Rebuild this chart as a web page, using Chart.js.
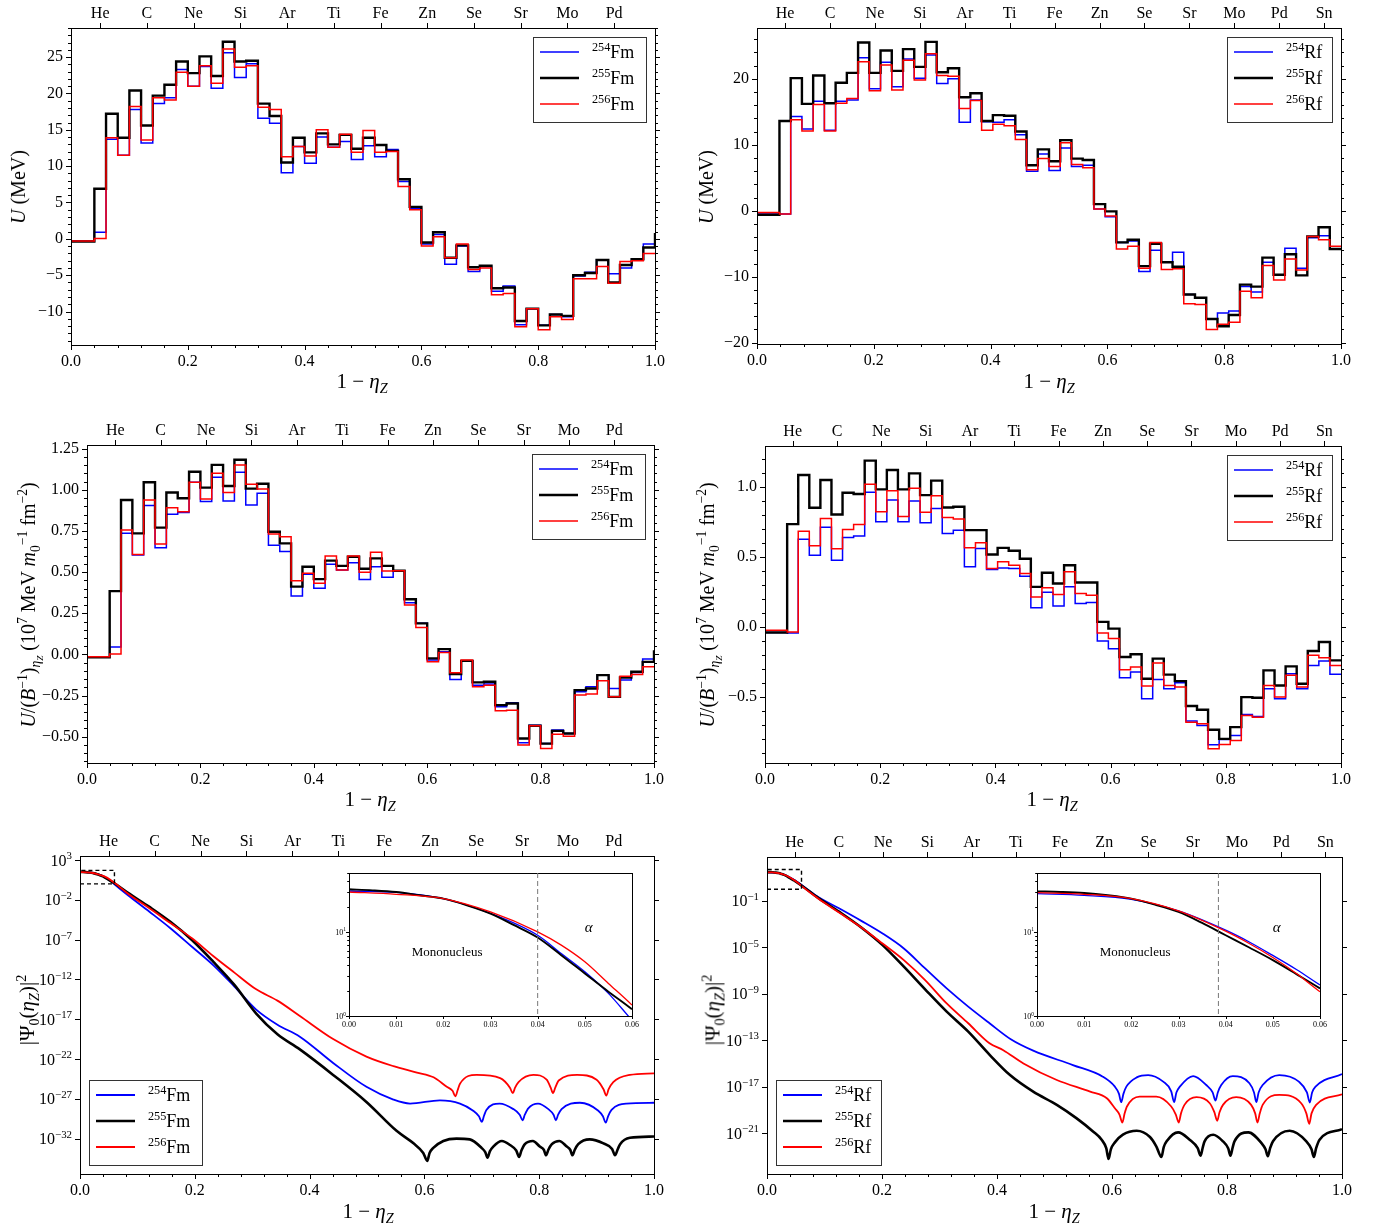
<!DOCTYPE html>
<html>
<head>
<meta charset="utf-8">
<title>Driving potential and ground-state wave function, Fm and Rf isotopes</title>
<script src="https://cdn.jsdelivr.net/npm/chart.js@4.4.1/dist/chart.umd.min.js"></script>
<style>
  body { margin: 0; width: 1379px; height: 1226px; position: relative; overflow: hidden; background: #fff; font-family: 'Liberation Serif', serif; color: #000; }
  canvas { position: absolute; }
  .ttl { position: absolute; z-index: 2; white-space: nowrap; transform: translate(-50%, -50%); font-size: 21px; line-height: 1; }
  .ttl.v { transform: translate(-50%, -50%) rotate(-90deg); font-size: 20px; }
  sub, sup { font-size: 0.68em; line-height: 0; }
</style>
</head>
<body>
<div class="ttl v" style="left:18px;top:187px"><i>U</i> (MeV)</div>
<div class="ttl v" style="left:706px;top:187px"><i>U</i> (MeV)</div>
<div class="ttl v" style="left:29px;top:605px"><i>U</i>/(<i>B</i><sup>−1</sup>)<sub><i>η<sub>Z</sub></i></sub> (10<sup>7</sup> MeV <i>m</i><sub>0</sub><sup>−1</sup> fm<sup>−2</sup>)</div>
<div class="ttl v" style="left:708px;top:605px"><i>U</i>/(<i>B</i><sup>−1</sup>)<sub><i>η<sub>Z</sub></i></sub> (10<sup>7</sup> MeV <i>m</i><sub>0</sub><sup>−1</sup> fm<sup>−2</sup>)</div>
<div class="ttl v" style="left:27px;top:1010px;font-size:21px">|Ψ<sub>0</sub>(<i>η<sub>Z</sub></i>)|<sup>2</sup></div>
<div class="ttl v" style="left:713px;top:1010px;font-size:21px">|Ψ<sub>0</sub>(<i>η<sub>Z</sub></i>)|<sup>2</sup></div>
<div class="ttl" style="left:362px;top:381px">1 − <i>η<sub>Z</sub></i></div>
<div class="ttl" style="left:1049px;top:381px">1 − <i>η<sub>Z</sub></i></div>
<div class="ttl" style="left:370px;top:799px">1 − <i>η<sub>Z</sub></i></div>
<div class="ttl" style="left:1052px;top:799px">1 − <i>η<sub>Z</sub></i></div>
<div class="ttl" style="left:368px;top:1211px">1 − <i>η<sub>Z</sub></i></div>
<div class="ttl" style="left:1054px;top:1211px">1 − <i>η<sub>Z</sub></i></div>
<script>
const FONT = "'Liberation Serif', serif";
Chart.defaults.font.family = FONT;
Chart.defaults.color = '#000';

// element labels on the top axis (light fragment charge Z2)
const elemNames = ['He', 'C', 'Ne', 'Si', 'Ar', 'Ti', 'Fe', 'Zn', 'Se', 'Sr', 'Mo', 'Pd', 'Sn'];
const elemZ = [2, 6, 10, 14, 18, 22, 26, 30, 34, 38, 42, 46, 50];
const xTicks = [0, 0.2, 0.4, 0.6, 0.8, 1.0];

// bin widths in 1 - eta_Z (one unit of charge)
const binFm = 2 / 100;
const binRf = 2 / 104;

// driving potential U (MeV), Fm
const uFm254 = [-0.3, -0.3, 0.9, 13.7, 11.5, 17.8, 13.2, 18.6, 19.4, 23.3, 21.0, 23.7, 20.7, 25.6, 22.2, 24.1, 16.6, 15.9, 9.1, 12.7, 10.4, 14.0, 12.6, 13.4, 10.9, 12.8, 11.3, 12.3, 7.9, 4.2, -0.7, 0.6, -3.5, -1.0, -4.5, -3.8, -7.2, -6.5, -11.8, -9.6, -11.9, -10.4, -10.7, -5.1, -4.6, -2.9, -4.8, -4.0, -2.8, -0.7];
const uFm255 = [-0.37, -0.37, 6.9, 17.2, 13.9, 20.4, 15.6, 19.7, 21.2, 24.4, 22.8, 25.1, 22.4, 27.1, 24.4, 24.5, 18.6, 16.9, 10.5, 13.9, 11.9, 14.5, 13.0, 14.3, 12.4, 13.9, 12.9, 12.1, 8.2, 4.4, -0.5, 0.9, -2.6, -0.9, -3.9, -3.7, -6.8, -6.7, -11.3, -9.6, -11.9, -10.4, -10.6, -5.0, -4.7, -2.9, -6.0, -3.6, -2.8, -1.2];
const uFm256 = [-0.3, -0.3, 0.05, 13.9, 11.5, 18.2, 13.6, 19.4, 19.1, 22.9, 21.0, 23.8, 21.4, 26.1, 23.6, 23.8, 18.1, 17.8, 11.3, 12.7, 11.4, 15.0, 12.6, 14.4, 11.9, 14.9, 11.9, 12.0, 7.2, 4.0, -1.0, 0.3, -2.6, -0.7, -4.2, -4.0, -7.7, -7.5, -12.1, -9.6, -12.5, -10.7, -11.1, -5.5, -5.5, -3.8, -6.1, -3.1, -3.0, -2.0];
const uFm255End = 0.8;

// driving potential U (MeV), Rf
const uRf254 = [-0.5, -0.5, -0.5, 14.3, 12.4, 16.6, 12.2, 16.6, 16.8, 23.2, 18.5, 22.5, 18.8, 23.0, 20.1, 23.6, 19.3, 20.0, 13.4, 16.8, 13.5, 13.4, 13.8, 11.5, 6.0, 8.6, 6.1, 9.5, 6.7, 6.9, 0.25, -0.9, -4.8, -4.6, -9.2, -6.0, -7.8, -6.3, -12.7, -13.2, -16.4, -15.5, -15.2, -11.5, -12.3, -7.8, -9.7, -5.7, -8.7, -4.1, -3.8, -5.8];
const uRf255 = [-0.6, -0.6, 13.6, 20.1, 16.2, 20.5, 16.3, 19.4, 20.9, 25.5, 20.9, 24.3, 21.2, 24.5, 21.8, 25.6, 21.0, 21.6, 17.2, 17.8, 13.6, 14.5, 14.4, 12.0, 6.9, 9.3, 7.5, 10.7, 7.9, 7.7, 1.0, -0.1, -4.8, -4.4, -8.4, -5.0, -7.8, -8.5, -12.7, -13.2, -16.4, -17.5, -15.8, -11.2, -11.5, -7.1, -9.7, -6.6, -9.8, -3.9, -2.5, -5.8];
const uRf256 = [-0.25, -0.25, -0.5, 13.8, 12.1, 16.1, 12.1, 16.3, 17.0, 22.6, 18.2, 22.1, 18.3, 22.8, 19.8, 23.8, 20.5, 20.4, 15.5, 16.7, 12.2, 13.1, 12.9, 10.8, 6.2, 7.9, 6.7, 10.3, 7.0, 6.5, 0.25, -0.8, -5.8, -5.4, -8.7, -4.8, -8.9, -8.8, -14.1, -14.2, -18.0, -17.2, -16.9, -12.2, -13.2, -8.3, -10.5, -7.3, -9.0, -3.9, -4.4, -5.4];

// U / (B^-1)_eta (10^7 MeV m0^-1 fm^-2), Fm
const ubFm254 = [-0.014, -0.014, 0.045, 0.736, 0.604, 0.905, 0.649, 0.852, 0.862, 1.047, 0.929, 1.077, 0.933, 1.108, 0.909, 0.980, 0.663, 0.625, 0.355, 0.487, 0.402, 0.548, 0.513, 0.558, 0.456, 0.533, 0.469, 0.509, 0.314, 0.189, -0.034, 0.016, -0.152, -0.039, -0.187, -0.180, -0.318, -0.294, -0.537, -0.430, -0.542, -0.460, -0.481, -0.227, -0.197, -0.126, -0.207, -0.156, -0.110, -0.028];
const ubFm255 = [-0.018, -0.018, 0.385, 0.939, 0.736, 1.047, 0.771, 0.984, 0.949, 1.110, 1.014, 1.152, 1.024, 1.183, 1.008, 1.037, 0.746, 0.675, 0.412, 0.533, 0.458, 0.570, 0.538, 0.594, 0.521, 0.584, 0.538, 0.509, 0.335, 0.189, -0.024, 0.032, -0.120, -0.039, -0.170, -0.166, -0.308, -0.298, -0.511, -0.434, -0.542, -0.465, -0.481, -0.217, -0.207, -0.126, -0.258, -0.140, -0.105, -0.045];
const ubFm256 = [-0.014, -0.014, 0.002, 0.757, 0.608, 0.939, 0.671, 0.892, 0.868, 1.047, 0.945, 1.101, 0.984, 1.152, 1.034, 1.006, 0.732, 0.716, 0.448, 0.493, 0.432, 0.598, 0.513, 0.598, 0.499, 0.621, 0.507, 0.509, 0.300, 0.164, -0.045, 0.012, -0.112, -0.034, -0.197, -0.187, -0.343, -0.339, -0.551, -0.434, -0.572, -0.485, -0.497, -0.247, -0.241, -0.160, -0.258, -0.132, -0.122, -0.075];
const ubFm255End = 0.026;

// U / (B^-1)_eta, Rf
const ubRf254 = [-0.040, -0.040, -0.043, 0.626, 0.512, 0.710, 0.476, 0.638, 0.648, 0.960, 0.750, 0.905, 0.750, 0.898, 0.743, 0.845, 0.667, 0.690, 0.429, 0.560, 0.410, 0.421, 0.417, 0.362, 0.136, 0.248, 0.150, 0.286, 0.167, 0.174, -0.100, -0.155, -0.362, -0.321, -0.512, -0.374, -0.440, -0.398, -0.671, -0.702, -0.840, -0.802, -0.774, -0.624, -0.638, -0.440, -0.512, -0.333, -0.440, -0.274, -0.243, -0.338];
const ubRf255 = [-0.040, -0.040, 0.733, 1.083, 0.850, 1.048, 0.802, 0.957, 0.948, 1.186, 0.981, 1.119, 0.981, 1.095, 0.940, 1.043, 0.852, 0.857, 0.690, 0.690, 0.517, 0.564, 0.543, 0.486, 0.286, 0.386, 0.310, 0.440, 0.317, 0.317, 0.036, -0.012, -0.214, -0.195, -0.369, -0.226, -0.340, -0.386, -0.564, -0.590, -0.733, -0.798, -0.714, -0.500, -0.505, -0.310, -0.417, -0.281, -0.405, -0.171, -0.107, -0.238];
const ubRf256 = [-0.024, -0.024, -0.036, 0.683, 0.579, 0.774, 0.557, 0.695, 0.731, 1.017, 0.821, 0.971, 0.788, 0.988, 0.817, 0.936, 0.781, 0.769, 0.564, 0.600, 0.417, 0.464, 0.440, 0.381, 0.214, 0.279, 0.231, 0.393, 0.238, 0.226, -0.043, -0.083, -0.305, -0.286, -0.421, -0.257, -0.417, -0.429, -0.679, -0.690, -0.869, -0.838, -0.810, -0.631, -0.643, -0.417, -0.500, -0.345, -0.429, -0.202, -0.219, -0.274];

// |Psi0|^2 as [1 - eta_Z, log10 value], Fm
const psiFm254 = [[0, 1.486], [0.01, 1.47], [0.02, 1.395], [0.03, 1.22], [0.04, 0.96], [0.045, 0.743], [0.05, 0.526], [0.055, 0.269], [0.06, -0.05], [0.083, -1.4], [0.121, -3.5], [0.158, -5.6], [0.195, -7.9], [0.232, -10.2], [0.269, -12.9], [0.307, -15.8], [0.344, -17.7], [0.383, -19.2], [0.441, -22.5], [0.499, -25.5], [0.546, -27.1], [0.575, -27.6], [0.627, -27.2], [0.662, -27.6], [0.685, -28.5], [0.695, -29.2], [0.700, -29.9], [0.704, -29.1], [0.708, -28.4], [0.731, -27.6], [0.755, -28.3], [0.766, -29.0], [0.771, -29.7], [0.775, -29.0], [0.781, -28.2], [0.798, -27.6], [0.816, -28.3], [0.825, -29.0], [0.829, -29.7], [0.833, -29.0], [0.839, -28.3], [0.871, -27.5], [0.903, -28.5], [0.911, -29.2], [0.916, -30.0], [0.920, -29.2], [0.926, -28.4], [0.952, -27.6], [1, -27.5]];
const psiFm255 = [[0, 1.506], [0.005, 1.494], [0.01, 1.474], [0.015, 1.435], [0.02, 1.395], [0.025, 1.316], [0.03, 1.217], [0.035, 1.08], [0.04, 0.933], [0.045, 0.723], [0.05, 0.506], [0.055, 0.289], [0.06, 0.079], [0.083, -1.1], [0.121, -2.9], [0.158, -4.8], [0.195, -7.05], [0.232, -9.77], [0.269, -12.7], [0.307, -16.3], [0.344, -18.9], [0.383, -20.8], [0.441, -24.0], [0.499, -27.4], [0.552, -31.06], [0.581, -32.6], [0.598, -33.8], [0.605, -34.8], [0.609, -33.8], [0.615, -33.2], [0.633, -32.3], [0.656, -32.0], [0.679, -32.1], [0.700, -33.2], [0.706, -33.7], [0.710, -34.4], [0.714, -33.6], [0.720, -33.0], [0.735, -32.3], [0.749, -32.8], [0.760, -33.5], [0.765, -34.3], [0.769, -33.5], [0.775, -32.7], [0.789, -32.3], [0.801, -33.0], [0.808, -33.4], [0.812, -34.1], [0.816, -33.4], [0.822, -32.7], [0.835, -32.3], [0.848, -33.0], [0.854, -33.4], [0.858, -34.1], [0.862, -33.4], [0.868, -32.7], [0.888, -32.1], [0.912, -32.6], [0.927, -33.3], [0.932, -34.1], [0.937, -33.3], [0.941, -32.7], [0.958, -31.9], [1, -31.74]];
const psiFm256 = [[0, 1.474], [0.01, 1.447], [0.02, 1.395], [0.03, 1.237], [0.04, 1.0], [0.045, 0.842], [0.05, 0.644], [0.055, 0.387], [0.06, 0.13], [0.083, -1.2], [0.121, -3.07], [0.158, -4.96], [0.195, -6.84], [0.232, -9.06], [0.269, -11.15], [0.307, -13.25], [0.344, -14.67], [0.383, -16.6], [0.441, -19.5], [0.499, -21.7], [0.546, -22.9], [0.587, -23.7], [0.616, -24.3], [0.639, -25.5], [0.649, -26.0], [0.654, -26.7], [0.658, -25.9], [0.662, -25.1], [0.691, -24.0], [0.732, -24.4], [0.749, -25.6], [0.754, -26.3], [0.758, -25.6], [0.764, -24.9], [0.790, -24.0], [0.813, -24.6], [0.820, -25.6], [0.824, -26.3], [0.828, -25.6], [0.834, -24.7], [0.866, -24.0], [0.900, -24.6], [0.912, -25.8], [0.917, -26.6], [0.921, -25.8], [0.929, -24.9], [0.958, -24.0], [1, -23.8]];

// |Psi0|^2 as [1 - eta_Z, log10 value], Rf
const psiRf254 = [[0, 1.455], [0.01, 1.435], [0.02, 1.387], [0.03, 1.249], [0.04, 1.02], [0.045, 0.88], [0.05, 0.72], [0.055, 0.553], [0.06, 0.368], [0.089, -0.66], [0.126, -1.66], [0.164, -2.72], [0.201, -3.81], [0.238, -5.1], [0.275, -6.82], [0.3125, -8.54], [0.35, -10.11], [0.387, -11.54], [0.424, -12.92], [0.463, -13.9], [0.532, -15.14], [0.584, -16.14], [0.605, -17.0], [0.612, -17.6], [0.616, -18.34], [0.620, -17.6], [0.625, -17.0], [0.643, -16.2], [0.663, -16.0], [0.689, -16.57], [0.703, -17.4], [0.708, -18.34], [0.712, -17.5], [0.718, -17.0], [0.741, -16.09], [0.764, -16.86], [0.775, -17.5], [0.780, -18.2], [0.784, -17.5], [0.790, -16.86], [0.810, -16.09], [0.839, -16.71], [0.847, -17.5], [0.851, -18.34], [0.855, -17.5], [0.862, -16.86], [0.891, -16.0], [0.925, -16.57], [0.939, -17.5], [0.944, -18.37], [0.948, -17.5], [0.954, -17.0], [1, -15.91]];
const psiRf255 = [[0, 1.482], [0.005, 1.475], [0.01, 1.462], [0.015, 1.435], [0.02, 1.395], [0.025, 1.324], [0.03, 1.237], [0.035, 1.107], [0.04, 0.96], [0.045, 0.814], [0.05, 0.664], [0.055, 0.498], [0.06, 0.328], [0.089, -0.74], [0.126, -1.95], [0.164, -3.29], [0.201, -4.81], [0.238, -6.67], [0.275, -8.62], [0.3125, -10.54], [0.35, -12.26], [0.388, -14.3], [0.4226, -16.0], [0.463, -17.43], [0.504, -18.57], [0.538, -19.71], [0.567, -20.86], [0.582, -21.57], [0.590, -22.3], [0.594, -23.23], [0.598, -22.4], [0.605, -21.8], [0.619, -21.14], [0.643, -20.8], [0.666, -21.34], [0.677, -22.14], [0.686, -23.06], [0.690, -22.2], [0.695, -21.71], [0.715, -20.94], [0.735, -21.57], [0.749, -22.3], [0.754, -22.94], [0.758, -22.2], [0.761, -21.71], [0.776, -21.14], [0.793, -21.71], [0.802, -22.3], [0.806, -22.94], [0.810, -22.2], [0.813, -21.71], [0.837, -20.94], [0.860, -21.86], [0.867, -22.4], [0.871, -23.0], [0.875, -22.3], [0.880, -21.71], [0.909, -20.8], [0.938, -21.71], [0.947, -22.4], [0.951, -23.06], [0.955, -22.3], [0.961, -21.57], [1, -20.66]];
const psiRf256 = [[0, 1.466], [0.01, 1.447], [0.02, 1.395], [0.03, 1.249], [0.04, 1.008], [0.045, 0.862], [0.05, 0.696], [0.055, 0.506], [0.06, 0.289], [0.089, -0.8], [0.126, -2.03], [0.164, -3.29], [0.201, -4.67], [0.238, -6.1], [0.275, -7.82], [0.3125, -9.83], [0.35, -11.54], [0.387, -13.26], [0.411, -13.86], [0.446, -15.0], [0.504, -16.43], [0.562, -17.43], [0.591, -18.0], [0.605, -18.86], [0.613, -19.4], [0.618, -20.09], [0.622, -19.3], [0.626, -18.71], [0.648, -17.86], [0.677, -17.86], [0.703, -18.71], [0.711, -19.4], [0.716, -20.09], [0.720, -19.3], [0.726, -18.57], [0.747, -17.91], [0.770, -18.43], [0.778, -19.2], [0.783, -19.94], [0.787, -19.2], [0.793, -18.57], [0.816, -17.91], [0.842, -18.57], [0.849, -19.3], [0.853, -20.09], [0.857, -19.3], [0.862, -18.57], [0.891, -17.71], [0.929, -18.43], [0.938, -19.3], [0.943, -20.2], [0.947, -19.3], [0.955, -18.57], [1, -17.66]];

// zoomed inset window and alpha-emission boundary
const insetX = [0, 0.06];
const insetY = [1, 10 ** 1.7];
const alphaFm = 4 / 100;
const alphaRf = 4 / 104;

const BLUE = '#0000ff', RED = '#ff0000', BLACK = '#000000';
const PAD = { l: 62, t: 32, r: 24, b: 36 };

function drawRich(ctx, parts, x, y, size, align) {
  const font = s => (s === 'i' ? 'italic ' : '') + (s === 'sup' || s === 'sub' ? size * 0.68 : size) + 'px ' + FONT;
  const shift = { n: 0, i: 0, sup: -size * 0.4, sub: size * 0.22 };
  let total = 0;
  const ws = parts.map(([t, s]) => { ctx.font = font(s); const w = ctx.measureText(t).width; total += w; return w; });
  let cx = align === 'right' ? x - total : align === 'center' ? x - total / 2 : x;
  ctx.textAlign = 'left';
  ctx.textBaseline = 'alphabetic';
  ctx.fillStyle = '#000';
  parts.forEach(([t, s], i) => { ctx.font = font(s); ctx.fillText(t, cx, y + shift[s]); cx += ws[i]; });
}

const deco = {
  id: 'deco',
  beforeDraw(chart, args, o) {
    if (!o.bg) return;
    const a = chart.chartArea, ctx = chart.ctx;
    ctx.save();
    ctx.fillStyle = '#fff';
    ctx.fillRect(a.left, a.top, a.right - a.left, a.bottom - a.top);
    ctx.restore();
  },
  afterDraw(chart, args, o) {
    const ctx = chart.ctx, a = chart.chartArea, xs = chart.scales.x, ys = chart.scales.y;
    const L = o.tick || 5, l = L * 0.6;
    ctx.save();
    ctx.strokeStyle = '#000';
    ctx.lineWidth = 1;
    const seg = (x1, y1, x2, y2) => { ctx.beginPath(); ctx.moveTo(x1, y1); ctx.lineTo(x2, y2); ctx.stroke(); };
    const snap = p => Math.round(p) + 0.5;

    if (o.xMinor) {
      for (let k = Math.ceil(xs.min / o.xMinor - 1e-6); k * o.xMinor <= xs.max + 1e-9; k++) {
        const p = snap(xs.getPixelForValue(k * o.xMinor));
        seg(p, a.bottom, p, a.bottom + l);
      }
    }
    xs.ticks.forEach(t => { const p = snap(xs.getPixelForValue(t.value)); seg(p, a.bottom, p, a.bottom + L); });
    if (chart.scales.x2) {
      const x2 = chart.scales.x2;
      x2.ticks.forEach(t => { const p = snap(x2.getPixelForValue(t.value)); seg(p, a.top, p, a.top - L); });
    }

    const yMinor = [];
    if (o.yMinor) {
      for (let k = Math.ceil(ys.min / o.yMinor - 1e-6); k * o.yMinor <= ys.max + 1e-9; k++) yMinor.push(k * o.yMinor);
    }
    if (o.yLogMinor) {
      for (let d = Math.floor(Math.log10(ys.min)); d <= Math.ceil(Math.log10(ys.max)); d++) {
        for (let m = 2; m <= 9; m++) { const v = m * 10 ** d; if (v > ys.min && v < ys.max) yMinor.push(v); }
      }
    }
    const sides = o.noRight ? [[a.left, -1]] : [[a.left, -1], [a.right, 1]];
    sides.forEach(([x0, dir]) => {
      yMinor.forEach(v => { const p = snap(ys.getPixelForValue(v)); seg(x0, p, x0 + dir * l, p); });
      ys.ticks.forEach(t => { const p = snap(ys.getPixelForValue(t.value)); seg(x0, p, x0 + dir * L, p); });
    });

    ctx.strokeRect(snap(a.left), snap(a.top), Math.round(a.right - a.left), Math.round(a.bottom - a.top));

    if (o.logLabels) {
      const sz = o.logLabels;
      ys.ticks.forEach(t => {
        const e = Math.round(Math.log10(t.value));
        const p = ys.getPixelForValue(t.value);
        drawRich(ctx, [['10', 'n'], [(e < 0 ? '−' : '') + Math.abs(e), 'sup']], a.left - (o.tick ? 3 : 8), p + sz * 0.35, sz, 'right');
      });
    }

    if (o.vline !== undefined) {
      const p = xs.getPixelForValue(o.vline);
      ctx.strokeStyle = '#777';
      ctx.lineWidth = 1;
      ctx.setLineDash([5, 3]);
      seg(p, a.top, p, a.bottom);
      ctx.setLineDash([]);
    }
    (o.notes || []).forEach(n => {
      ctx.font = (n.italic ? 'italic ' : '') + n.size + 'px ' + FONT;
      ctx.fillStyle = '#000';
      ctx.textAlign = 'center';
      ctx.textBaseline = 'middle';
      ctx.fillText(n.text, xs.getPixelForValue(n.x), ys.getPixelForValue(n.y));
    });

    if (o.legend) {
      const g = o.legend, h = 85;
      const bx = g.corner === 'tr' ? a.right - 9 - g.w : a.left + 9;
      const by = g.corner === 'tr' ? a.top + 9 : a.bottom - 9 - h;
      ctx.fillStyle = '#fff';
      ctx.fillRect(bx, by, g.w, h);
      ctx.strokeStyle = '#333';
      ctx.lineWidth = 1;
      ctx.strokeRect(Math.round(bx) + 0.5, Math.round(by) + 0.5, g.w, h);
      chart.data.datasets.filter(d => d.iso).forEach((d, i) => {
        const ry = by + 15 + 26 * i;
        ctx.strokeStyle = d.borderColor;
        ctx.lineWidth = d.borderWidth;
        seg(bx + 7, ry, bx + 46, ry);
        drawRich(ctx, [[d.iso, 'sup'], [g.el, 'n']], bx + 59, ry + 6, 18, 'left');
      });
    }
    ctx.restore();
  }
};

function addCanvas(area, pad) {
  const c = document.createElement('canvas');
  const w = area.r - area.l + pad.l + pad.r, h = area.b - area.t + pad.t + pad.b;
  c.width = w; c.height = h;
  c.style.left = (area.l - pad.l) + 'px';
  c.style.top = (area.t - pad.t) + 'px';
  c.style.width = w + 'px';
  c.style.height = h + 'px';
  document.body.appendChild(c);
  return c;
}

const fmt = (v, dec) => (v < -1e-9 ? '−' : '') + Math.abs(v).toFixed(dec);

function xAxis(height) {
  return {
    type: 'linear', min: 0, max: 1,
    grid: { display: false, drawTicks: false }, border: { display: false },
    ticks: { padding: 7, color: '#000', font: { family: FONT, size: 16 }, maxRotation: 0, callback: v => v.toFixed(1) },
    afterBuildTicks: s => { s.ticks = xTicks.map(v => ({ value: v })); },
    afterFit: s => { s.height = height; }
  };
}

function elemAxis(ztot) {
  const list = elemZ.map((z, i) => ({ v: (2 * z + 1) / ztot, n: elemNames[i] })).filter(e => e.v < 1);
  return {
    type: 'linear', position: 'top', min: 0, max: 1,
    grid: { display: false, drawTicks: false }, border: { display: false },
    ticks: { padding: 5, color: '#000', autoSkip: false, maxRotation: 0, font: { family: FONT, size: 16 }, callback: (v, i) => (list[i] ? list[i].n : '') },
    afterBuildTicks: s => { s.ticks = list.map(e => ({ value: e.v })); },
    afterFit: s => { s.height = PAD.t; }
  };
}

function yLinear(min, max, ticks, dec) {
  return {
    type: 'linear', min, max,
    grid: { display: false, drawTicks: false }, border: { display: false },
    ticks: { padding: 8, color: '#000', font: { family: FONT, size: 16 }, callback: v => fmt(v, dec) },
    afterBuildTicks: s => { s.ticks = ticks.map(v => ({ value: v })); },
    afterFit: s => { s.width = PAD.l; }
  };
}

function baseOptions(scales, decoOpts, pad) {
  return {
    responsive: false, animation: false, events: [],
    layout: { padding: { left: 0, top: pad.t0 || 0, right: pad.r, bottom: 0 } },
    plugins: { legend: { display: false }, tooltip: { enabled: false }, deco: decoOpts },
    scales
  };
}

function stepPts(vals, w, tail) {
  const pts = vals.map((v, i) => ({ x: i * w, y: v }));
  pts.push({ x: vals.length * w, y: tail === undefined ? vals[vals.length - 1] : tail });
  return pts;
}

function stepPanel(area, el, ztot, binW, sets, yCfg, minorY, legW) {
  const c = addCanvas(area, PAD);
  const series = [
    { iso: '254', vals: sets[0], color: BLUE, w: 1.5, order: 3 },
    { iso: '255', vals: sets[1], color: BLACK, w: 2.4, order: 2, tail: sets[3] },
    { iso: '256', vals: sets[2], color: RED, w: 1.5, order: 1 }
  ];
  new Chart(c, {
    type: 'line',
    data: {
      datasets: series.map(s => ({
        iso: s.iso, data: stepPts(s.vals, binW, s.tail), borderColor: s.color, borderWidth: s.w,
        stepped: true, pointRadius: 0, fill: false, order: s.order
      }))
    },
    options: baseOptions({ x: xAxis(PAD.b), x2: elemAxis(ztot), y: yCfg },
      { xMinor: 0.04, yMinor: minorY, legend: { corner: 'tr', w: legW, el } }, PAD),
    plugins: [deco]
  });
}

function psiPanel(area, el, ztot, sets, yRange, yExps, legW) {
  const c = addCanvas(area, PAD);
  const series = [
    { iso: '254', pts: sets[0], color: BLUE, w: 1.8, order: 3 },
    { iso: '255', pts: sets[1], color: BLACK, w: 2.6, order: 2 },
    { iso: '256', pts: sets[2], color: RED, w: 1.8, order: 1 }
  ];
  const datasets = series.map(s => ({
    iso: s.iso, data: s.pts.map(([x, e]) => ({ x, y: 10 ** e })), borderColor: s.color, borderWidth: s.w,
    cubicInterpolationMode: 'monotone', pointRadius: 0, fill: false, order: s.order
  }));
  datasets.push({
    data: [{ x: insetX[0], y: insetY[0] }, { x: insetX[1], y: insetY[0] }, { x: insetX[1], y: insetY[1] }, { x: insetX[0], y: insetY[1] }],
    borderColor: BLACK, borderWidth: 1.4, borderDash: [4, 3], pointRadius: 0, fill: false, order: 0
  });
  new Chart(c, {
    type: 'line',
    data: { datasets },
    options: baseOptions({
      x: xAxis(PAD.b), x2: elemAxis(ztot),
      y: {
        type: 'logarithmic', min: 10 ** yRange[0], max: 10 ** yRange[1],
        grid: { display: false, drawTicks: false }, border: { display: false },
        ticks: { display: false },
        afterBuildTicks: s => { s.ticks = yExps.map(e => ({ value: 10 ** e })); },
        afterFit: s => { s.width = PAD.l; }
      }
    }, { xMinor: 0.04, logLabels: 16, legend: { corner: 'bl', w: legW, el } }, PAD),
    plugins: [deco]
  });
}

function insetPanel(area, sets, alphaX) {
  const pad = { l: 26, t: 6, r: 6, b: 16, t0: 6 };
  const c = addCanvas(area, pad);
  const cols = [[BLUE, 1.3], [BLACK, 1.9], [RED, 1.3]];
  new Chart(c, {
    type: 'line',
    data: {
      datasets: sets.map((pts, i) => ({
        data: pts.map(([x, e]) => ({ x, y: 10 ** e })), borderColor: cols[i][0], borderWidth: cols[i][1],
        cubicInterpolationMode: 'monotone', pointRadius: 0, fill: false, order: 3 - i
      }))
    },
    options: baseOptions({
      x: {
        type: 'linear', min: insetX[0], max: insetX[1],
        grid: { display: false, drawTicks: false }, border: { display: false },
        ticks: { padding: 4, color: '#000', font: { family: FONT, size: 8 }, maxRotation: 0, callback: v => v.toFixed(2) },
        afterBuildTicks: s => { s.ticks = [0, 0.01, 0.02, 0.03, 0.04, 0.05, 0.06].map(v => ({ value: v })); },
        afterFit: s => { s.height = pad.b; }
      },
      y: {
        type: 'logarithmic', min: insetY[0], max: insetY[1],
        grid: { display: false, drawTicks: false }, border: { display: false },
        ticks: { display: false },
        afterBuildTicks: s => { s.ticks = [1, 10].map(v => ({ value: v })); },
        afterFit: s => { s.width = pad.l; }
      }
    }, {
      bg: true, tick: 3, logLabels: 8, yLogMinor: true, noRight: true, vline: alphaX,
      notes: [
        { text: 'Mononucleus', x: 0.0208, y: 5.6, size: 13 },
        { text: 'α', x: 0.0508, y: 11.2, size: 15, italic: true }
      ]
    }, pad),
    plugins: [deco]
  });
}

stepPanel({ l: 71, r: 655, t: 28, b: 345 }, 'Fm', 100, binFm, [uFm254, uFm255, uFm256, uFm255End],
  yLinear(-14.6, 29.0, [-10, -5, 0, 5, 10, 15, 20, 25], 0), 1, 113);
stepPanel({ l: 757, r: 1341, t: 28, b: 344 }, 'Rf', 104, binRf, [uRf254, uRf255, uRf256],
  yLinear(-20.2, 27.7, [-20, -10, 0, 10, 20], 0), 2, 105);
stepPanel({ l: 87, r: 654, t: 445, b: 763 }, 'Fm', 100, binFm, [ubFm254, ubFm255, ubFm256, ubFm255End],
  yLinear(-0.66, 1.273, [-0.5, -0.25, 0, 0.25, 0.5, 0.75, 1.0, 1.25], 2), 0.05, 113);
stepPanel({ l: 765, r: 1341, t: 446, b: 763 }, 'Rf', 104, binRf, [ubRf254, ubRf255, ubRf256],
  yLinear(-0.97, 1.29, [-0.5, 0, 0.5, 1.0], 1), 0.1, 105);

psiPanel({ l: 80, r: 654, t: 856, b: 1174 }, 'Fm', 100, [psiFm254, psiFm255, psiFm256],
  [-36.45, 3.5], [3, -2, -7, -12, -17, -22, -27, -32], 113);
psiPanel({ l: 767, r: 1342, t: 857, b: 1174 }, 'Rf', 104, [psiRf254, psiRf255, psiRf256],
  [-24.5, 2.78], [-1, -5, -9, -13, -17, -21], 105);

insetPanel({ l: 349, r: 637, t: 873, b: 1016 }, [psiFm254, psiFm255, psiFm256], alphaFm);
insetPanel({ l: 1037, r: 1325, t: 873, b: 1016 }, [psiRf254, psiRf255, psiRf256], alphaRf);
</script>
</body>
</html>
